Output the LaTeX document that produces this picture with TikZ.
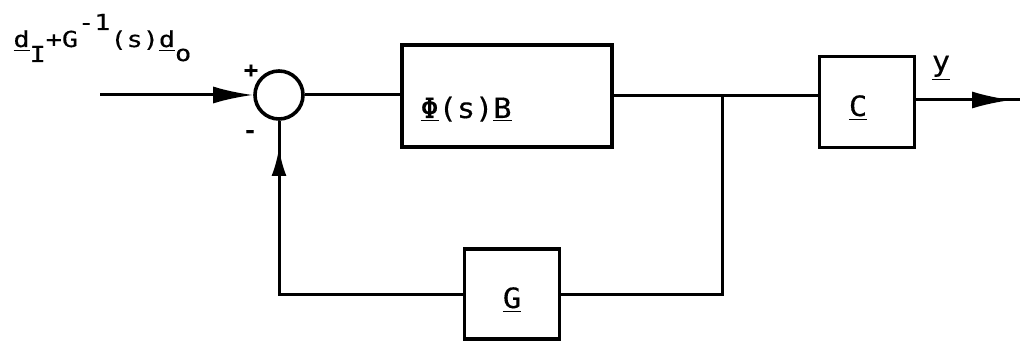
\documentclass[tikz,border=0pt]{standalone}
\usepackage{fontspec}
\setmonofont[FakeStretch=1.08,FakeBold=0.4]{DejaVu Sans Mono}
\newfontfamily\lblfont[FakeStretch=1.22,FakeBold=0.4]{DejaVu Sans Mono}
\usetikzlibrary{arrows.meta}
\begin{document}
\begin{tikzpicture}[x=0.5pt,y=-0.5pt, line width=1.5pt,
  box/.style={draw, line width=1.8pt, inner sep=0pt},
  txt/.style={font=\ttfamily\fontsize{14}{16}\selectfont, inner sep=0pt},
  lbl/.style={font=\lblfont\fontsize{11}{13}\selectfont, inner sep=0pt},
  longtip/.style={-{Latex[length=20pt,width=8.5pt]}},
  shorttip/.style={-{Latex[length=14pt,width=7.5pt]}}]
\useasboundingbox (0,0) rectangle (1020,341);
% blocks
\node[box, minimum width=105pt, minimum height=51pt] (phi) at (507,96) {};
\node[txt, anchor=base west] (phitext) at (419,118) {\underline{Φ}(s)\underline{B}};
\node[box, minimum width=47.5pt, minimum height=45.5pt] (C) at (867,102) {};
\node[txt, anchor=base] (Ctext) at (858,116) {\underline{C}};
\node[box, minimum width=47.5pt, minimum height=45pt] (G) at (512,294) {};
\node[txt, anchor=base] (Gtext) at (512,308) {\underline{G}};
\node[circle, draw, line width=1.8pt, minimum size=24pt, inner sep=0pt] (sum) at (279,95) {};
% labels
\node[lbl, anchor=base west] (inlab) at (12,47)
  {\underline{d}\raisebox{-7.5pt}{I}+G\raisebox{8.5pt}{-1}(s)\underline{d}\raisebox{-7pt}{o}};
\node[lbl, font=\ttfamily\bfseries\fontsize{11}{13}\selectfont] (plus) at (251,71) {+};
\node[lbl, font=\ttfamily\bfseries\fontsize{11}{13}\selectfont] (minus) at (250,134) {-};
\node[txt, anchor=base] (ylab) at (941,71) {\underline{y}};
% coordinates
\coordinate (in) at (100,95);
\coordinate (br) at (722,96);
\coordinate (fa) at (279,148);
\coordinate (fs) at (279,200);
\coordinate (oa) at (1012,100);
\coordinate (oe) at (1020,100);
% connectors
\draw[longtip] (in) -- (sum.west);
\draw (sum.east) -- (phi.west |- sum.east);
\draw (phi.east) -- (C.west |- phi.east);
\draw (C.east |- oa) -- (oe);
\draw[longtip] (C.east |- oa) -- (oa);
\draw (br) |- (G.east);
\draw (G.west) -| (sum.south);
\draw[shorttip] (fs) -- (fa);
\end{tikzpicture}
\end{document}
